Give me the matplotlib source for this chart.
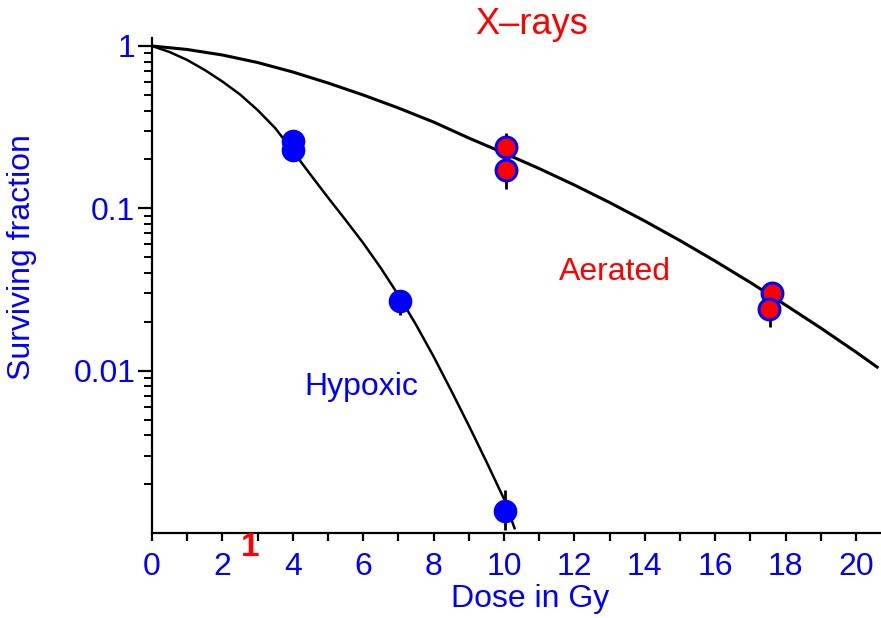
import matplotlib
matplotlib.use('Agg')
import matplotlib.pyplot as plt
from matplotlib.ticker import FixedLocator, NullFormatter

plt.rcParams['font.family'] = ['Liberation Sans', 'DejaVu Sans']

# fitted curves
aer_curve_dose = [0, 1, 2, 3, 4, 5, 6, 7, 8, 9, 10, 11, 12, 13, 14, 15, 16,
                  17, 18, 19, 20, 20.6]
aer_curve_sf = [1.0, 0.9515, 0.880, 0.791, 0.6915, 0.5916, 0.499, 0.415,
                0.340, 0.271, 0.219, 0.1758, 0.1392, 0.1086, 0.0835, 0.0633,
                0.0473, 0.0349, 0.02536, 0.0183, 0.01302, 0.01052]
hyp_curve_dose = [0, 0.5, 1, 1.5, 2, 2.5, 3, 3.5, 4, 4.5, 5, 5.5, 6, 6.5, 7,
                  7.5, 8, 8.5, 9, 9.5, 10, 10.3]
hyp_curve_sf = [1.0, 0.918, 0.820, 0.711, 0.604, 0.503, 0.403, 0.312, 0.2255,
                0.1615, 0.1165, 0.0847, 0.0611, 0.0429, 0.0292, 0.0192,
                0.01222, 0.00754, 0.00459, 0.00275, 0.00162, 0.00107]

# measured points
hyp_dose = [4.0, 4.0, 7.05, 10.03]
hyp_sf = [0.26, 0.229, 0.0268, 0.00136]
aer_dose = [10.06, 10.06, 17.6, 17.53]
aer_sf = [0.239, 0.172, 0.030, 0.024]

# error bars (dose, low, high)
err_dose = [10.06, 17.55, 7.05, 10.03]
err_low = [0.1315, 0.0186, 0.022, 0.00105]
err_high = [0.291, 0.034, 0.03, 0.00184]

xticks = [0, 2, 4, 6, 8, 10, 12, 14, 16, 18, 20]
yticks = [0.01, 0.1, 1]
ytick_labels = ['0.01', '0.1', '1']

blue = '#0000ff'
red = '#ff0000'

fig = plt.figure(figsize=(8.81, 6.18), dpi=100)
ax = fig.add_axes([152/881, 1 - 533/618, 729/881, 495/618])

ax.plot(aer_curve_dose, aer_curve_sf, color='black', lw=2.2, zorder=2)
ax.plot(hyp_curve_dose, hyp_curve_sf, color='black', lw=1.8, zorder=2)
ax.vlines(err_dose, err_low, err_high, color='black', lw=2, zorder=1)

ax.plot(hyp_dose, hyp_sf, 'o', ms=16, color=blue, mec=blue, zorder=3, clip_on=False)
ax.plot(aer_dose, aer_sf, 'o', ms=15, color=red, mec=blue, mew=2.2, zorder=3)

ax.set_yscale('log')
ax.set_xlim(0, 20.71)
ax.set_ylim(0.001, 1.12)

for s in ['top', 'right']:
    ax.spines[s].set_visible(False)
for s in ['left', 'bottom']:
    ax.spines[s].set_linewidth(1.6)

ax.xaxis.set_major_locator(FixedLocator(xticks))
ax.xaxis.set_minor_locator(FixedLocator(range(0, 21)))
ax.set_xticklabels([str(t) for t in xticks])
ax.yaxis.set_major_locator(FixedLocator(yticks))
ax.set_yticklabels(ytick_labels)
ax.yaxis.set_minor_formatter(NullFormatter())

ax.tick_params(axis='x', which='both', direction='out', length=6, width=1.6,
               labelsize=23, labelcolor=blue, pad=8)
ax.tick_params(axis='y', which='major', direction='out', length=10, width=1.6,
               labelsize=23, labelcolor=blue, pad=2)
ax.tick_params(axis='y', which='minor', direction='out', length=6, width=1.4)

fig.text(152/881 - 130/881, 1 - 257/618, 'Surviving fraction', rotation=90,
         color=blue, fontsize=23, ha='center', va='center')
fig.text(530/881, 1 - 599/618, 'Dose in Gy', color=blue, fontsize=23,
         ha='center', va='center')
fig.text(532/881, 1 - 25/618, 'X\u2013rays', color=red, fontsize=26,
         ha='center', va='center')
fig.text(615/881, 1 - 272/618, 'Aerated', color=red, fontsize=23,
         ha='center', va='center')
fig.text(361/881, 1 - 387/618, 'Hypoxic', color=blue, fontsize=23,
         ha='center', va='center')
fig.text(250/881, 1 - 547/618, '1', color=red, fontsize=24, fontweight='bold',
         ha='center', va='center')

fig.savefig('out.png', dpi=100)
